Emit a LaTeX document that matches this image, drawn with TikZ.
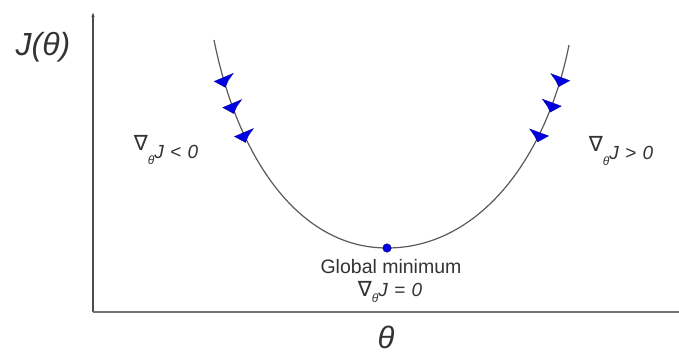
\documentclass[tikz,border=0pt]{standalone}
\usepackage{fontspec}
\setmainfont{Liberation Sans}
\newfontfamily\nablafont{DejaVu Sans}
\usetikzlibrary{arrows.meta}
\tikzset{
  axisline/.style={line width=1.6pt, draw=black!70},
  curveline/.style={line width=1.2pt, draw=black!65},
  marker/.style={fill={rgb,255:red,0;green,0;blue,225}, draw={rgb,255:red,0;green,0;blue,150}, line width=0.3pt},
  lbl/.style={inner sep=0pt, text=black!80},
  gradlbl/.style={lbl, font=\fontsize{19}{20}\selectfont\itshape},
}
\newcommand{\nab}{{\upshape\nablafont\fontsize{21}{22}\selectfont\char"2207}}
\newcommand{\subth}{\raisebox{-6pt}{\fontsize{12}{12}\selectfont θ}}
\begin{document}
\begin{tikzpicture}[x=1pt,y=-1pt]
\useasboundingbox (0,0) rectangle (679,356);
\coordinate (origin) at (93,312);
\coordinate (ytop) at (93,12);
\coordinate (xend) at (679,312);
\draw[axisline, -{Latex[length=5pt,width=3.5pt]}] (origin) -- (ytop);
\draw[axisline, draw=black!55, line width=2pt] (origin) -- (xend);
% curve
\coordinate (ltop) at (214,40);
\coordinate (bottom) at (387,248);
\coordinate (rtop) at (569,45);
\draw[curveline] (ltop) .. controls (238,160) and (300,248) .. (bottom)
  coordinate[pos=0.11] (l1) coordinate[pos=0.19] (l2) coordinate[pos=0.285] (l3);
\draw[curveline] (bottom) .. controls (478,248) and (546,160) .. (rtop)
  coordinate[pos=0.72] (r3) coordinate[pos=0.82] (r2) coordinate[pos=0.9] (r1);
% markers left
\foreach \m in {l1,l2,l3}{
  \fill[marker, shift={(\m)}] (-9,3) -- (10,-5) -- (5,2) -- (2,9) -- cycle;
}
% markers right
\foreach \m in {r1,r2,r3}{
  \fill[marker, shift={(\m)}] (9,2) -- (-10,-5) -- (-5,2) -- (-2,8) -- cycle;
}
\node[circle, fill={rgb,255:red,0;green,0;blue,225}, draw={rgb,255:red,0;green,0;blue,150}, inner sep=0pt, minimum size=8.5pt] (minpt) at (bottom) {};
% labels
\node[lbl, font=\fontsize{32}{34}\selectfont\itshape] (jlabel) at (43,47) {J(θ)};
\node[lbl, font=\fontsize{31}{32}\selectfont\itshape] (thlabel) at (386,337) {θ};
\node[lbl, font=\fontsize{19.5}{21}\selectfont] (gmin) at (391,267) {Global minimum};
\node[gradlbl] (gzero) at (390,292) {\nab\subth J\,\,=\,\,0};
\node[gradlbl] (gneg) at (166,150) {\raisebox{8pt}{\nab}\subth J\,\,<\,\,0};
\node[gradlbl] (gpos) at (621,151) {\raisebox{8pt}{\nab}\subth J\,\,>\,\,0};
\end{tikzpicture}
\end{document}
